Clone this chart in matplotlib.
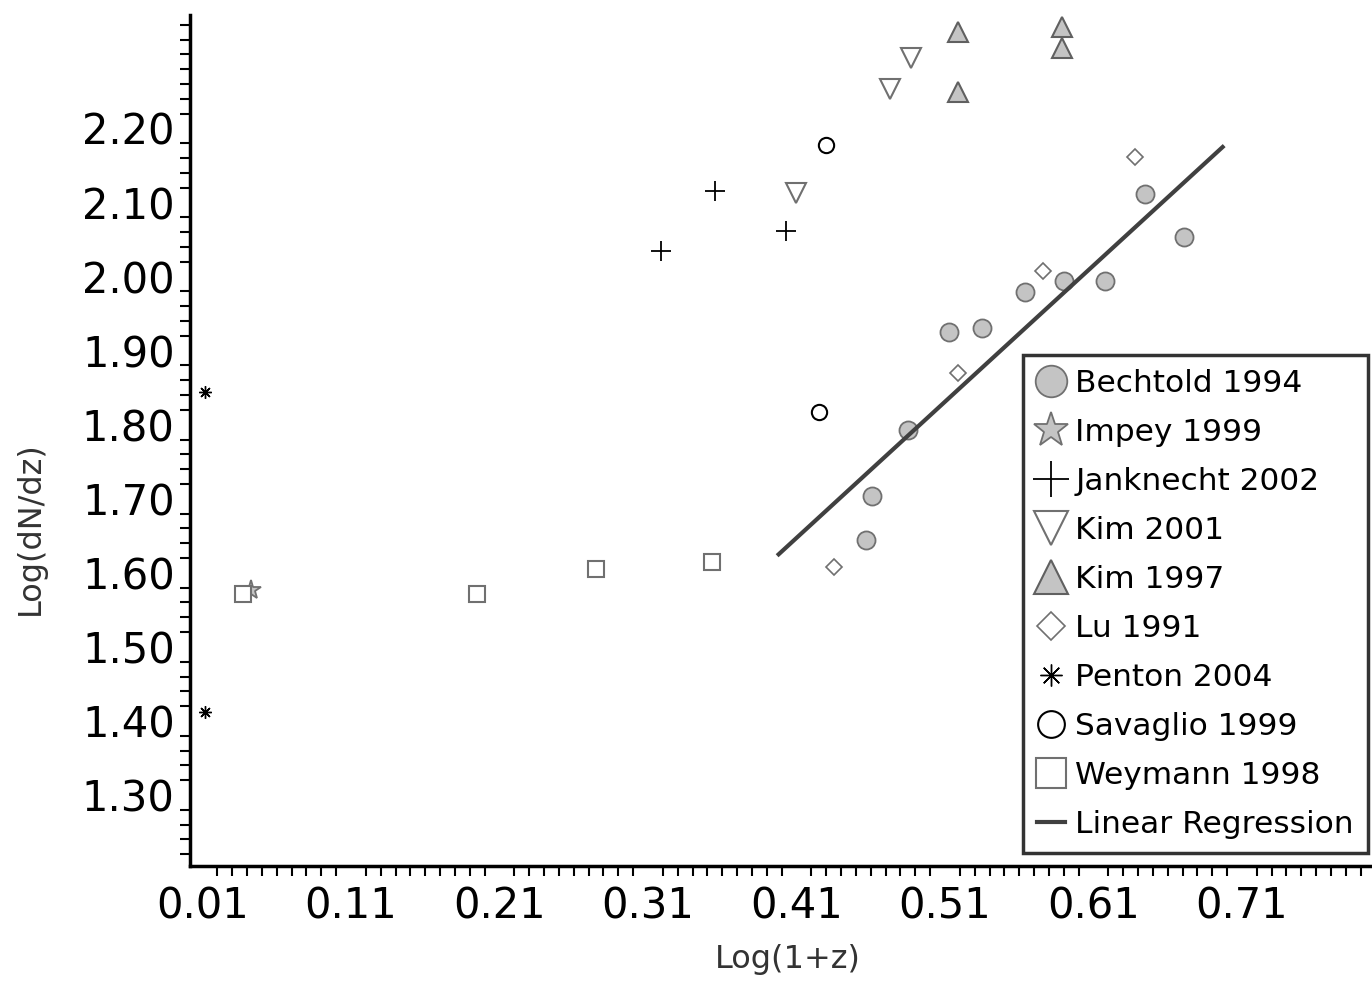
import matplotlib
matplotlib.use("Agg")
import matplotlib.pyplot as plt
from matplotlib.ticker import MultipleLocator, FixedLocator

# data (Log(1+z), Log(dN/dz))
bechtold_x = [0.485, 0.461, 0.457, 0.513, 0.535, 0.564, 0.590, 0.618, 0.645, 0.671]
bechtold_y = [1.793, 1.704, 1.645, 1.925, 1.931, 1.979, 1.994, 1.994, 2.112, 2.053]
impey_x = [0.043]
impey_y = [1.577]
janknecht_x = [0.319, 0.355, 0.403]
janknecht_y = [2.035, 2.116, 2.062]
kim2001_x = [0.410, 0.473, 0.487]
kim2001_y = [2.113, 2.253, 2.295]
kim1997_x = [0.519, 0.519, 0.589, 0.589]
kim1997_y = [2.330, 2.249, 2.337, 2.309]
lu_x = [0.435, 0.519, 0.576, 0.638]
lu_y = [1.608, 1.870, 2.008, 2.162]
penton_x = [0.012, 0.012]
penton_y = [1.844, 1.412]
savaglio_x = [0.430, 0.425]
savaglio_y = [2.178, 1.817]
weymann_x = [0.037, 0.195, 0.275, 0.353]
weymann_y = [1.571, 1.571, 1.605, 1.614]
reg_x = [0.398, 0.697]
reg_y = [1.625, 2.175]

x_ticks = [0.01, 0.11, 0.21, 0.31, 0.41, 0.51, 0.61, 0.71]
y_ticks = [1.30, 1.40, 1.50, 1.60, 1.70, 1.80, 1.90, 2.00, 2.10, 2.20]

fig = plt.figure(figsize=(13.72, 9.85), dpi=100)
ax = fig.add_axes([0.1385, 0.1208, 0.860, 0.864])

edge = '#707070'
fill = '#c4c4c4'

ax.plot(bechtold_x, bechtold_y, 'o', ms=13, mfc=fill, mec=edge, mew=1.3, label='Bechtold 1994')
ax.plot(impey_x, impey_y, '*', ms=15, mfc=fill, mec=edge, mew=1.3, label='Impey 1999')
ax.plot(janknecht_x, janknecht_y, '+', ms=15, color='black', mew=1.3, label='Janknecht 2002')
ax.plot(kim2001_x, kim2001_y, 'v', ms=14, mfc='white', mec=edge, mew=1.5, label='Kim 2001')
ax.plot(kim1997_x, kim1997_y, '^', ms=14, mfc=fill, mec='#606060', mew=1.5, label='Kim 1997')
ax.plot(lu_x, lu_y, 'D', ms=8, mfc='white', mec=edge, mew=1.2, label='Lu 1991')
ax.plot(penton_x, penton_y, marker=(8, 2, 0), ls='none', ms=9, color='black', mew=1.0, label='Penton 2004')
ax.plot(savaglio_x, savaglio_y, 'o', ms=11, mfc='white', mec='black', mew=1.5, label='Savaglio 1999')
ax.plot(weymann_x, weymann_y, 's', ms=12, mfc='white', mec=edge, mew=1.5, label='Weymann 1998')
ax.plot(reg_x, reg_y, '-', color='#404040', lw=3, label='Linear Regression')

ax.set_xlim(0.0016, 0.7962)
ax.set_ylim(1.2041, 2.3533)

for s in ['top', 'right']:
    ax.spines[s].set_visible(False)
for s in ['left', 'bottom']:
    ax.spines[s].set_linewidth(2.5)

ax.xaxis.set_major_locator(FixedLocator(x_ticks))
ax.yaxis.set_major_locator(FixedLocator(y_ticks))
ax.set_xticklabels(['%.2f' % v for v in x_ticks])
ax.set_yticklabels(['%.2f' % v for v in y_ticks])
ax.xaxis.set_minor_locator(MultipleLocator(0.01))
ax.yaxis.set_minor_locator(MultipleLocator(0.02))
ax.tick_params(axis='both', which='major', length=0, labelsize=30, pad=14)
ax.tick_params(axis='y', which='major', pad=11)
ax.tick_params(axis='both', which='minor', length=7, width=1.5, direction='out')

ax.set_xlabel('Log(1+z)', fontsize=23, color='#333333')
ax.set_ylabel('Log(dN/dz)', fontsize=23, color='#333333')
# label positions in axes fraction, matched to the reference
ax.xaxis.set_label_coords((788 - 190) / 1180, -(944 - 866) / 851)
ax.yaxis.set_label_coords(-(190 - 46) / 1180, (866 - 528) / 851)

leg = ax.legend(loc='upper left', bbox_to_anchor=(1023 / 1372, 1 - 355 / 985), bbox_transform=fig.transFigure,
                fontsize=22.5, markerscale=1.75, frameon=True, fancybox=False,
                handlelength=0.9, handletextpad=0.32, borderpad=0.45, labelspacing=0.64,
                borderaxespad=0)
leg.get_frame().set_edgecolor('black')
leg.get_frame().set_linewidth(2.5)

fig.savefig('out.png', dpi=100)
